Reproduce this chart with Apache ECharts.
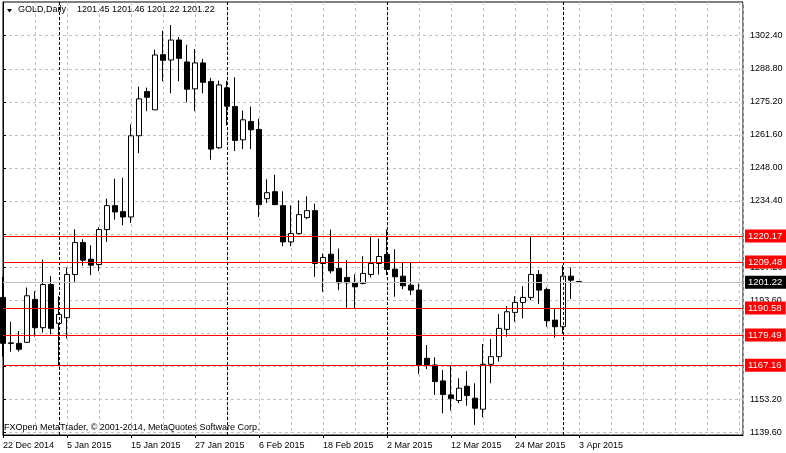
<!DOCTYPE html>
<html><head><meta charset="utf-8">
<script src="https://cdn.jsdelivr.net/npm/echarts@6/dist/echarts.min.js"></script>
<style>html,body{margin:0;padding:0;background:#fff}#c{width:786px;height:453px}</style>
</head><body><div id="c"></div>
<script>
// ---- data ----
const dates = [
 '2014-12-22','2014-12-23','2014-12-24','2014-12-26','2014-12-29','2014-12-30','2014-12-31',
 '2015-01-02','2015-01-05','2015-01-06','2015-01-07','2015-01-08','2015-01-09','2015-01-12',
 '2015-01-13','2015-01-14','2015-01-15','2015-01-16','2015-01-19','2015-01-20','2015-01-21',
 '2015-01-22','2015-01-23','2015-01-26','2015-01-27','2015-01-28','2015-01-29','2015-01-30',
 '2015-02-02','2015-02-03','2015-02-04','2015-02-05','2015-02-06','2015-02-09','2015-02-10',
 '2015-02-11','2015-02-12','2015-02-13','2015-02-16','2015-02-17','2015-02-18','2015-02-19',
 '2015-02-20','2015-02-23','2015-02-24','2015-02-25','2015-02-26','2015-02-27','2015-03-02',
 '2015-03-03','2015-03-04','2015-03-05','2015-03-06','2015-03-09','2015-03-10','2015-03-11',
 '2015-03-12','2015-03-13','2015-03-16','2015-03-17','2015-03-18','2015-03-19','2015-03-20',
 '2015-03-23','2015-03-24','2015-03-25','2015-03-26','2015-03-27','2015-03-30','2015-03-31',
 '2015-04-01','2015-04-02','2015-04-03'];
const opens = [
 1194.97,1176.30,1176.10,1176.53,1194.14,1182.53,1200.28,1184.31,1186.63,1204.38,
 1217.48,1210.66,1208.47,1222.81,1232.64,1230.18,1228.00,1261.31,1279.46,1271.96,
 1294.62,1292.43,1300.62,1291.61,1280.57,1291.22,1283.56,1256.39,1280.98,1273.32,
 1259.67,1267.18,1263.90,1235.50,1238.37,1232.64,1217.76,1221.17,1227.72,1230.59,
 1208.88,1212.71,1206.83,1203.15,1201.12,1200.70,1204.38,1208.88,1212.58,1206.56,
 1203.69,1200.00,1197.96,1169.97,1167.24,1160.69,1154.95,1152.63,1158.50,1153.59,
 1149.08,1167.51,1170.65,1181.85,1188.81,1192.91,1194.96,1204.38,1198.23,1185.67,
 1182.94,1203.69,1201.45];
const highs = [
 1203.41,1184.99,1181.17,1199.05,1197.55,1210.52,1203.69,1195.50,1207.24,1222.94,
 1218.85,1216.39,1223.76,1235.50,1243.70,1244.11,1265.95,1281.51,1281.10,1296.66,
 1304.45,1306.77,1301.85,1298.71,1296.95,1292.86,1285.06,1283.97,1283.90,1285.33,
 1271.68,1273.32,1268.27,1243.42,1245.33,1238.51,1232.77,1234.82,1236.46,1233.46,
 1212.98,1222.81,1215.03,1210.25,1204.40,1211.90,1219.80,1219.12,1222.82,1214.75,
 1209.15,1209.15,1200.69,1175.43,1170.38,1165.19,1167.10,1161.78,1164.70,1159.73,
 1175.84,1177.89,1188.13,1191.41,1195.50,1199.60,1220.17,1206.15,1199.05,1190.45,
 1208.20,1207.24,1201.46];
const lows = [
 1170.64,1172.70,1172.70,1176.30,1178.85,1180.49,1179.80,1167.16,1178.17,1201.37,
 1207.93,1204.10,1205.74,1217.76,1226.90,1224.58,1225.54,1254.21,1271.41,1271.90,
 1283.70,1278.78,1283.70,1275.09,1271.40,1278.77,1251.48,1256.00,1265.54,1255.03,
 1255.85,1255.85,1228.00,1233.73,1233.00,1215.98,1215.98,1220.80,1227.04,1203.42,
 1197.28,1204.79,1197.96,1190.71,1190.58,1200.30,1203.15,1204.38,1204.10,1195.23,
 1198.37,1195.91,1163.56,1165.60,1154.95,1147.40,1148.54,1151.54,1150.50,1142.67,
 1145.81,1159.73,1168.61,1178.85,1184.99,1186.35,1193.86,1192.22,1182.94,1178.44,
 1180.21,1194.27,1201.22];
const closes = [
 1176.13,1176.12,1173.66,1195.64,1182.53,1200.28,1182.26,1187.99,1204.38,1217.48,
 1210.25,1208.20,1222.81,1232.64,1230.04,1228.00,1261.31,1276.46,1277.14,1294.48,
 1292.30,1300.62,1293.12,1280.42,1291.22,1283.27,1255.85,1282.19,1273.46,1259.40,
 1267.86,1263.76,1233.05,1237.96,1233.05,1217.76,1221.17,1228.95,1230.59,1208.88,
 1211.34,1205.88,1200.96,1200.96,1199.31,1204.80,1208.88,1211.75,1206.44,1203.42,
 1199.73,1197.96,1167.24,1167.24,1160.42,1155.10,1153.50,1157.69,1154.68,1149.49,
 1167.51,1170.65,1182.26,1189.08,1192.91,1194.96,1204.38,1197.96,1185.40,1182.94,
 1203.69,1202.05,1201.22];
const levels = [1220.17, 1209.48, 1190.58, 1179.49, 1167.16];
const bidPrice = 1201.22;
const yTickValues = [1139.60,1153.17,1166.73,1180.30,1193.87,1207.43,1221.00,1234.57,1248.13,1261.70,1275.27,1288.83,1302.40];
const yTickLabels = ['1139.60','1153.20','1166.80','1180.40','1193.60','1207.20','1220.80','1234.40','1248.00','1261.60','1275.20','1288.80','1302.40'];
const symbolName = 'GOLD,Daily';
const copyright = 'FXOpen MetaTrader, \u00a9 2001-2014, MetaQuotes Software Corp.';

// ---- helpers ----
const MONTHS = ['Jan','Feb','Mar','Apr','May','Jun','Jul','Aug','Sep','Oct','Nov','Dec'];
function fmtDate(s){ const p = s.split('-'); return (+p[2]) + ' ' + MONTHS[+p[1]-1] + ' ' + p[0]; }
const LABEL_STEP = 8;
const FONT = 'Liberation Sans';
const candleData = dates.map((d,i)=>[i, opens[i], closes[i], lows[i], highs[i]]);
const monthStarts = [];
for (let i=1;i<dates.length;i++){ if (dates[i].slice(5,7)!==dates[i-1].slice(5,7)) monthStarts.push(i); }
const labelIdx = dates.map((d,i)=>i).filter(i=>i%LABEL_STEP===0);
const last = dates.length-1;
const headerVals = [opens[last],highs[last],lows[last],closes[last]].map(v=>v.toFixed(2)).join(' ');

const markData = [];
monthStarts.forEach(i=>markData.push({xAxis:i, lineStyle:{color:'#000',type:[3,2],width:1}, label:{show:false}}));
markData.push({yAxis:bidPrice, lineStyle:{color:'#c0c0c0',type:'solid',width:1},
  label:{show:true,position:'end',distance:2,formatter:()=>bidPrice.toFixed(2),color:'#fff',backgroundColor:'#000',padding:[2,4,1,3],fontSize:9.5,fontFamily:FONT}});
levels.forEach(v=>markData.push({yAxis:v, lineStyle:{color:'#ff0000',type:'solid',width:1},
  label:{show:true,position:'end',distance:2,formatter:()=>v.toFixed(2),color:'#fff',backgroundColor:'#ff0000',padding:[2,4,1,3],fontSize:9.5,fontFamily:FONT}}));

const chart = echarts.init(document.getElementById('c'), null, {renderer:'canvas'});
chart.setOption({
  animation:false,
  backgroundColor:'#fff',
  textStyle:{fontFamily:FONT},
  grid:{left:3,right:43,top:2,bottom:18,show:true,borderColor:'#000',borderWidth:1,backgroundColor:'transparent',containLabel:false,outerBoundsMode:'none'},
  xAxis:[{
    type:'value', min:0, max:92.5, interval:4, position:'bottom',
    axisLine:{show:true,lineStyle:{color:'#000',width:1}},
    axisTick:{show:false},
    axisLabel:{show:true,color:'#000',fontSize:9,fontFamily:FONT,align:'left',margin:6,showMaxLabel:false,
      formatter:(v)=> (v%LABEL_STEP===0 && v<dates.length) ? fmtDate(dates[v]) : ''},
    splitLine:{show:true,lineStyle:{color:'#c0c0c0',type:[3,3],width:1}}
  },{
    type:'value', min:0, max:92.5, interval:LABEL_STEP, position:'bottom', gridIndex:0,
    axisLine:{show:false},
    axisTick:{show:true,length:3,lineStyle:{color:'#000'},customValues:labelIdx},
    axisLabel:{show:false},
    splitLine:{show:false}
  }],
  yAxis:[{
    type:'value', position:'right', min:1138.49, max:1316.23, scale:true,
    axisLine:{show:true,lineStyle:{color:'#000',width:1}},
    axisTick:{show:true,length:3,lineStyle:{color:'#000'},customValues:yTickValues},
    axisLabel:{show:true,color:'#000',fontSize:9,fontFamily:FONT,margin:7,customValues:yTickValues,
      formatter:(v)=>{const i=yTickValues.findIndex(t=>Math.abs(t-v)<0.01);return i>=0?yTickLabels[i]:'';}},
    splitLine:{show:true,lineStyle:{color:'#c0c0c0',type:[3,3],width:1}}
  }],
  graphic:[
    {type:'polygon',shape:{points:[[7,9],[12,9],[9.5,12.5]]},style:{fill:'#000'}},
    {type:'text',left:18,top:5,style:{text:symbolName,fill:'#000',font:'9px "Liberation Sans"'}},
    {type:'text',left:77,top:5,style:{text:headerVals,fill:'#000',font:'9px "Liberation Sans"'}},
    {type:'text',left:4,top:423,style:{text:copyright,fill:'#000',font:'9px "Liberation Sans"'}}
  ],
  series:[{
    type:'candlestick', xAxisIndex:0, yAxisIndex:0,
    data:candleData, encode:{x:0,y:[1,2,3,4]},
    barWidth:5,
    itemStyle:{color:'#fff',color0:'#000',borderColor:'#000',borderColor0:'#000',borderWidth:1},
    markLine:{silent:true,symbol:['none','none'],animation:false,data:markData}
  }]
});
</script></body></html>
